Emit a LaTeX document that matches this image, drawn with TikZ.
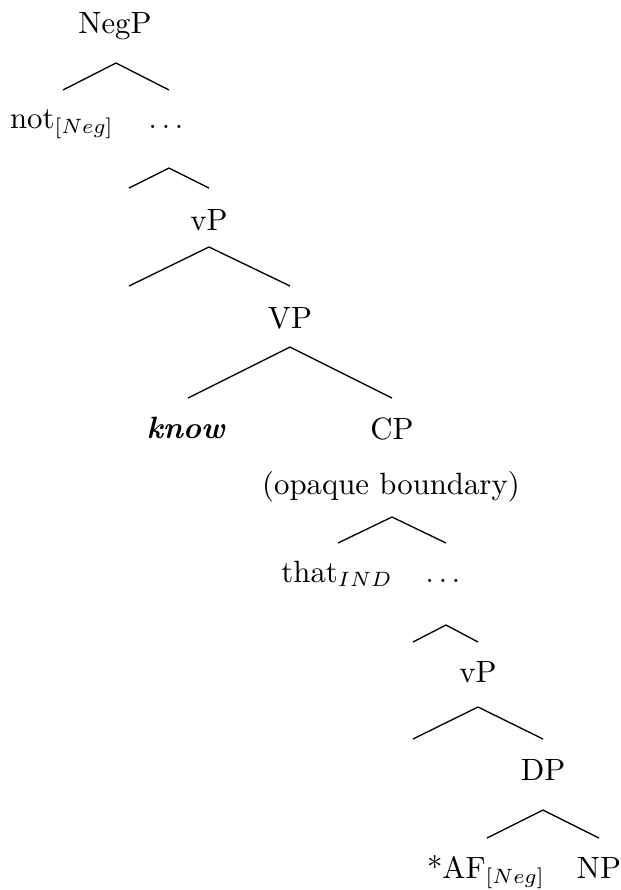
\documentclass[tikz,border=0pt]{standalone}
\usetikzlibrary{calc}
\begin{document}
\begin{tikzpicture}[x=0.3378pt,y=-0.3378pt,
  lbl/.style={anchor=base,inner sep=0pt,font=\fontsize{10.4}{12.5}\selectfont},
  br/.style={line width=0.45pt}]
\useasboundingbox (0,0) rectangle (621,890);
% nodes
\node[lbl] (negp) at (115,33) {NegP};
\node[lbl] (not) at (62,128) {not$_{[Neg]}$};
\node[lbl] (dots1) at (166,128) {$\ldots$};
\coordinate (e1) at (129,188);
\node[lbl] (vp1) at (209,230) {vP};
\coordinate (e2) at (129,286);
\node[lbl] (VP) at (290,328) {VP};
\node[lbl] (know) at (186,438) {\textbf{\textit{know}}};
\node[lbl] (cp) at (392,439) {CP};
\node[lbl] (cpb) at (391,494) {(opaque boundary)};
\node[lbl] (that) at (337,582) {that$_{IND}$};
\node[lbl] (dots2) at (443,582) {$\ldots$};
\coordinate (e3) at (413,642);
\node[lbl] (vp2) at (478,682) {vP};
\coordinate (e4) at (413,739);
\node[lbl] (dp) at (543,780) {DP};
\node[lbl] (af) at (486,878) {*AF$_{[Neg]}$};
\node[lbl] (np) at (599,878) {NP};
% branches
\draw[br] ($(not.base)+(1,-38)$) -- ($(negp.base)+(1,30)$) -- ($(dots1.base)+(3,-38)$);
\draw[br] (e1) -- ($(dots1.base)+(3,40)$) -- ($(vp1.base)+(0,-42)$);
\draw[br] (e2) -- ($(vp1.base)+(0,17)$) -- ($(VP.base)+(0,-42)$);
\draw[br] ($(know.base)+(2,-40)$) -- ($(VP.base)+(0,19)$) -- ($(cp.base)+(0,-41)$);
\draw[br] ($(that.base)+(1,-39)$) -- ($(cpb.base)+(1,23)$) -- ($(dots2.base)+(3,-39)$);
\draw[br] (e3) -- ($(dots2.base)+(3,43)$) -- ($(vp2.base)+(0,-40)$);
\draw[br] (e4) -- ($(vp2.base)+(0,25)$) -- ($(dp.base)+(0,-41)$);
\draw[br] ($(af.base)+(1,-40)$) -- ($(dp.base)+(0,30)$) -- ($(np.base)+(0,-40)$);
\end{tikzpicture}
\end{document}
